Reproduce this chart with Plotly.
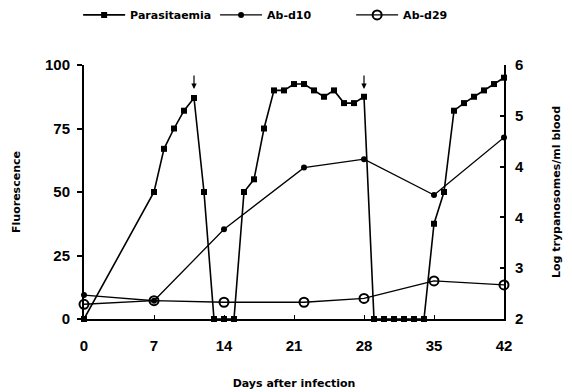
import plotly.graph_objects as go

# Parasitaemia (log trypanosomes/ml blood) by day
para_days = [0, 7, 8, 9, 10, 11, 12, 13, 14, 15, 16, 17, 18, 19, 20, 21, 22, 23, 24, 25,
             26, 27, 28, 29, 30, 31, 32, 33, 34, 35, 36, 37, 38, 39, 40, 41, 42]
para_log = [2.0, 4.0, 4.68, 5.0, 5.28, 5.48, 4.0, 2.0, 2.0, 2.0, 4.0, 4.2, 5.0, 5.6, 5.6, 5.7,
            5.7, 5.6, 5.5, 5.6, 5.4, 5.4, 5.5, 2.0, 2.0, 2.0, 2.0, 2.0, 2.0, 3.5, 4.0, 5.28,
            5.4, 5.5, 5.6, 5.7, 5.8]

# Antibody fluorescence
d10_days = [0, 7, 14, 22, 28, 35, 42]
d10_fluor = [9.4, 7.2, 35.3, 59.6, 62.9, 48.8, 71.5]
d29_days = [0, 7, 14, 22, 28, 35, 42]
d29_fluor = [5.8, 7.2, 6.6, 6.6, 8.1, 15.0, 13.4]

# Days of treatment (arrows)
arrow_days = [11, 28]

x_ticks = [0, 7, 14, 21, 28, 35, 42]
left_ticks = [0, 25, 50, 75, 100]
right_tickvals = [2, 2.8, 3.6, 4.4, 5.2, 6]
right_ticktext = ["2", "3", "4", "4", "5", "6"]

BLACK = "#000000"
TICK_FONT = dict(family="Liberation Sans, Arial", size=15, color=BLACK, weight="bold")
SMALL_FONT = dict(family="DejaVu Sans", size=11, color=BLACK, weight="bold")

fig = go.Figure()

fig.add_trace(go.Scatter(
    x=para_days, y=para_log, yaxis="y2", name="Parasitaemia", mode="lines+markers",
    line=dict(color=BLACK, width=1.6),
    marker=dict(symbol="square", size=6, color=BLACK),
    cliponaxis=False, legend="legend",
))
fig.add_trace(go.Scatter(
    x=d10_days, y=d10_fluor, name="Ab-d10", mode="lines+markers",
    line=dict(color=BLACK, width=1.3),
    marker=dict(symbol="circle", size=6, color=BLACK),
    cliponaxis=False, legend="legend2",
))
fig.add_trace(go.Scatter(
    x=d29_days, y=d29_fluor, name="Ab-d29", mode="lines+markers",
    line=dict(color=BLACK, width=1.3),
    marker=dict(symbol="circle-open", size=9, color=BLACK, line=dict(width=2, color=BLACK)),
    cliponaxis=False, legend="legend3",
))

for d in arrow_days:
    fig.add_annotation(
        x=d, y=90.6, xref="x", yref="y", text="", showarrow=True,
        ax=0, ay=-15, arrowhead=2, arrowsize=0.9, arrowwidth=1.2, arrowcolor=BLACK,
    )

legend_common = dict(
    orientation="h", yref="container", yanchor="middle", y=0.962, xanchor="left",
    font=SMALL_FONT, bgcolor="rgba(0,0,0,0)", borderwidth=0,
    itemwidth=42, tracegroupgap=0,
)

fig.update_layout(
    width=572, height=392,
    margin=dict(l=84, r=68, t=65, b=73, autoexpand=False),
    plot_bgcolor="white", paper_bgcolor="white",
    showlegend=True,
    legend=dict(x=-0.014, **legend_common),
    legend2=dict(x=0.312, **legend_common),
    legend3=dict(x=0.636, **legend_common),
    xaxis=dict(
        range=[0, 42], tickvals=x_ticks, showgrid=False, zeroline=False,
        showline=True, linecolor=BLACK, linewidth=2,
        ticks="inside", ticklen=4, tickwidth=1, tickcolor=BLACK,
        tickfont=TICK_FONT, ticklabelstandoff=12, automargin=False,
        title=dict(text="Days after infection", font=SMALL_FONT, standoff=26),
    ),
    yaxis=dict(
        range=[0, 100], tickvals=left_ticks, showgrid=False, zeroline=False,
        showline=True, linecolor=BLACK, linewidth=2,
        ticks="outside", ticklen=5, tickwidth=1.5, tickcolor=BLACK,
        tickfont=TICK_FONT, ticklabelstandoff=4, automargin=False,
        title=dict(text="Fluorescence", font=SMALL_FONT, standoff=22),
    ),
    yaxis2=dict(
        range=[2, 6], overlaying="y", side="right", anchor="x",
        tickvals=right_tickvals, ticktext=right_ticktext,
        showgrid=False, zeroline=False,
        showline=True, linecolor=BLACK, linewidth=2,
        ticks="inside", ticklen=4, tickwidth=1.5, tickcolor=BLACK,
        tickfont=TICK_FONT, ticklabelstandoff=6, automargin=False,
        title=dict(text="Log trypanosomes/ml blood", font=SMALL_FONT, standoff=29),
    ),
)

fig.write_html("out.html")
